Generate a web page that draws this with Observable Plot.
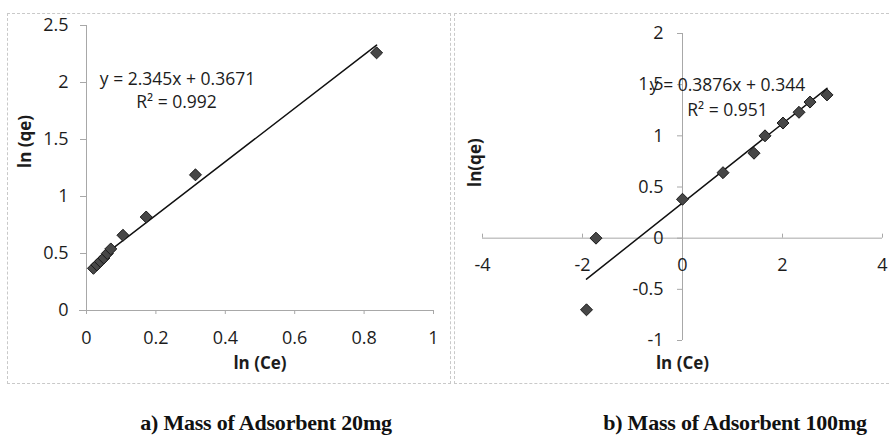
<!DOCTYPE html>
<html>
<head>
<meta charset="utf-8">
<script src="https://cdn.jsdelivr.net/npm/d3@7"></script>
<script src="https://cdn.jsdelivr.net/npm/@observablehq/plot@0.6"></script>
<style>
  html, body { margin: 0; padding: 0; background: #fff; }
  body { width: 891px; height: 435px; position: relative; overflow: hidden; font-family: "Open Sans", sans-serif; }
  .panel { position: absolute; }
  .border { position: absolute; border: 1px dashed #c9c9c9; box-sizing: border-box; }
  .caption { position: absolute; font-family: "Liberation Serif", "Times New Roman", serif; font-weight: bold; font-size: 22px; color: #111; white-space: nowrap; transform: translateX(-50%); letter-spacing: -0.2px; }
</style>
</head>
<body>
<div class="border" style="left:7px;top:13px;width:444px;height:371px;"></div>
<div class="border" style="left:454px;top:13px;width:440px;height:371px;"></div>
<div id="a" class="panel" style="left:0;top:0;"></div>
<div id="b" class="panel" style="left:453px;top:0;"></div>
<div class="caption" style="left:266px;top:410px;">a) Mass of Adsorbent 20mg</div>
<div class="caption" style="left:735px;top:410px;">b) Mass of Adsorbent 100mg</div>
<script>
// ---- Panel a: Mass of Adsorbent 20mg ----
const xTicksA = [0, 0.2, 0.4, 0.6, 0.8, 1];
const yTicksA = [0, 0.5, 1, 1.5, 2, 2.5];
const lnCeA = [0.02, 0.03, 0.04, 0.05, 0.06, 0.07, 0.105, 0.172, 0.314, 0.836];
const lnQeA = [0.37, 0.40, 0.43, 0.46, 0.50, 0.54, 0.66, 0.82, 1.19, 2.26];
const slopeA = 2.345, interceptA = 0.3671;
const eqA = "y = 2.345x + 0.3671", r2A = "R² = 0.992";

// ---- Panel b: Mass of Adsorbent 100mg ----
const xTicksB = [-4, -2, 0, 2, 4];
const yTicksB = [-1, -0.5, 0, 0.5, 1, 1.5, 2];
const lnCeB = [-1.92, -1.73, 0, 0.81, 1.43, 1.65, 2.01, 2.33, 2.55, 2.89];
const lnQeB = [-0.70, 0.0, 0.38, 0.64, 0.83, 1.0, 1.125, 1.23, 1.33, 1.40];
const slopeB = 0.3876, interceptB = 0.344;
const eqB = "y = 0.3876x + 0.344", r2B = "R² = 0.951";

const axisColor = "#a8a8a8";
const textColor = "#1c1c1c";
const fmt = d => String(d);

function pts(xs, ys) { return xs.map((x, i) => ({x, y: ys[i]})); }
function fit(xs, m, b) {
  const lo = d3.min(xs), hi = d3.max(xs);
  return [{x: lo, y: m * lo + b}, {x: hi, y: m * hi + b}];
}

const chartA = Plot.plot({
  width: 450, height: 385,
  marginLeft: 86, marginRight: 17, marginTop: 25, marginBottom: 75,
  style: {fontFamily: "Open Sans, sans-serif", background: "transparent", overflow: "visible"},
  x: {domain: [0, 1], axis: null},
  y: {domain: [0, 2.5], axis: null},
  marks: [
    Plot.ruleY([0], {x1: 0, x2: 1, stroke: axisColor, insetLeft: -7}),
    Plot.ruleX([0], {y1: 0, y2: 2.5, stroke: axisColor}),
    Plot.ruleY(yTicksA, {x1: 0, x2: 0, y: d => d, stroke: axisColor, insetLeft: -6}),
    Plot.ruleX(xTicksA, {y1: 0, y2: 0, x: d => d, stroke: axisColor, insetBottom: -4}),
    Plot.text(xTicksA, {x: d => d, y: 0, text: fmt, dy: 28, fontSize: 18, fill: textColor}),
    Plot.text(yTicksA, {x: 0, y: d => d, text: fmt, dx: -18, textAnchor: "end", fontSize: 18, fill: textColor}),
    Plot.line(fit(lnCeA, slopeA, interceptA), {x: "x", y: "y", stroke: "#111", strokeWidth: 1.5}),
    Plot.dot(pts(lnCeA, lnQeA), {x: "x", y: "y", symbol: "diamond2", r: 5.4, fill: "#474747", stroke: "#1a1a1a", strokeWidth: 1}),
    Plot.text([eqA], {frameAnchor: "top-left", dx: 91, dy: 47, fontSize: 17.5, fill: textColor, textAnchor: "middle"}),
    Plot.text([r2A], {frameAnchor: "top-left", dx: 90, dy: 70, fontSize: 17.5, fill: textColor, textAnchor: "middle"}),
    Plot.text(["ln (qe)"], {frameAnchor: "left", dx: -61, rotate: -90, fontSize: 17, fontWeight: "bold", fill: textColor}),
    Plot.text(["ln (Ce)"], {frameAnchor: "bottom", dy: 58, fontSize: 17, fontWeight: "bold", fill: textColor})
  ]
});
document.getElementById("a").append(chartA);

const chartB = Plot.plot({
  width: 438, height: 385,
  marginLeft: 29, marginRight: 9, marginTop: 33, marginBottom: 45,
  style: {fontFamily: "Open Sans, sans-serif", background: "transparent", overflow: "visible"},
  x: {domain: [-4, 4], axis: null},
  y: {domain: [-1, 2], axis: null},
  marks: [
    Plot.ruleY([0], {x1: -4, x2: 4, stroke: axisColor}),
    Plot.ruleX([0], {y1: -1, y2: 2, stroke: axisColor}),
    Plot.ruleY(yTicksB, {x1: 0, x2: 0, y: d => d, stroke: axisColor, insetLeft: -5}),
    Plot.ruleX(xTicksB, {y1: 0, y2: 0, x: d => d, stroke: axisColor, insetTop: -4}),
    Plot.text(xTicksB, {x: d => d, y: 0, text: fmt, dy: 27, fontSize: 18, fill: textColor}),
    Plot.text(yTicksB, {x: 0, y: d => d, text: fmt, dx: -19, textAnchor: "end", fontSize: 18, fill: textColor}),
    Plot.line(fit(lnCeB, slopeB, interceptB), {x: "x", y: "y", stroke: "#111", strokeWidth: 1.5}),
    Plot.dot(pts(lnCeB, lnQeB), {x: "x", y: "y", symbol: "diamond2", r: 5.4, fill: "#474747", stroke: "#1a1a1a", strokeWidth: 1}),
    Plot.text([eqB], {frameAnchor: "top-left", dx: 245, dy: 45, fontSize: 17.5, fill: textColor, textAnchor: "middle"}),
    Plot.text([r2B], {frameAnchor: "top-left", dx: 245, dy: 70, fontSize: 17.5, fill: textColor, textAnchor: "middle"}),
    Plot.text(["ln(qe)"], {frameAnchor: "left", dx: -7, rotate: -90, fontSize: 17, fontWeight: "bold", fill: textColor}),
    Plot.text(["ln (Ce)"], {frameAnchor: "bottom", dy: 28, fontSize: 17, fontWeight: "bold", fill: textColor})
  ]
});
document.getElementById("b").append(chartB);
</script>
</body>
</html>
